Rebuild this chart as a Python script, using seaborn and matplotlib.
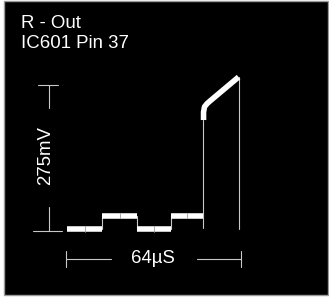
import matplotlib
matplotlib.use("Agg")
import matplotlib.pyplot as plt
import seaborn as sns
import pandas as pd
from matplotlib.patches import Rectangle

# ---- data (time in µs, level in mV) ----
title_lines = ["R - Out", "IC601 Pin 37"]
step_edges_us = [0.4, 13.2, 26.0, 38.4, 50.1]      # edges of the four flat parts
step_levels_mv = [4, 29, 4, 29]                      # level of each flat part
ramp_t_us = [50.3, 50.3, 50.65, 51.6, 52.7, 63.1]
ramp_v_mv = [209, 224, 234, 240, 245, 290]
scale_v_label = "275mV"
scale_v_mv = 275
scale_t_label = "64µS"
scale_t_us = 64

sns.set_theme(style="white")
plt.rcParams["font.family"] = ["Liberation Sans", "DejaVu Sans"]

W, H = 329, 297
FS = 13.4
fig = plt.figure(figsize=(W / 100, H / 100), dpi=100, facecolor="white")
fig.add_artist(Rectangle((4 / W, 2 / H), 324 / W, 294 / H, transform=fig.transFigure,
                         facecolor="black", edgecolor="#9a9a9a", linewidth=1, zorder=-1))
ax = fig.add_axes([0, 0, 1, 1])
ax.patch.set_visible(False)
ax.set_xlim(-24.14, 96.18)
ax.set_ylim(-124.3, 435.1)
ax.axis("off")

thin = dict(color="#c8c8c8", linewidth=0.8, sort=False, estimator=None, legend=False)
thick = dict(color="white", linewidth=4.0, sort=False, estimator=None, legend=False,
             solid_capstyle="butt", solid_joinstyle="round")

def seg(xs, ys, **kw):
    sns.lineplot(data=pd.DataFrame({"t": xs, "v": ys}), x="t", y="v", ax=ax, **kw)

# thin transitions
for i in range(1, 4):
    seg([step_edges_us[i]] * 2, [step_levels_mv[i - 1], step_levels_mv[i]], **thin)
seg([step_edges_us[4]] * 2, [step_levels_mv[0] + 1.5, ramp_v_mv[0]], **thin)
seg([ramp_t_us[-1] + 0.2] * 2, [ramp_v_mv[-1], step_levels_mv[0]], **thin)

# thick flat parts with mid dividers
for i, lvl in enumerate(step_levels_mv):
    a, b = step_edges_us[i], step_edges_us[i + 1]
    seg([a, b], [lvl, lvl], **thick)
    m = (a + b) / 2
    seg([m, m], [lvl - 5, lvl + 5], color="#9a9a9a", linewidth=0.6, sort=False,
        estimator=None, legend=False)

# thick ramp
seg(ramp_t_us, ramp_v_mv, **thick)

# vertical scale marker
mk = dict(color="#c8c8c8", linewidth=0.8, sort=False, estimator=None, legend=False)
xv = -6.4
seg([-10.1, -2.8], [scale_v_mv, scale_v_mv], **mk)
seg([xv, xv], [scale_v_mv, 231.7], **mk)
seg([xv, xv], [45.2, 0], **mk)
seg([-12.07, -1.46], [0, 0], **mk)
ax.text(-7.4, 142, scale_v_label, rotation=90, ha="center", va="center",
        color="white", fontsize=FS)

# horizontal scale marker
yh = -52.7
seg([0, 16.5], [yh, yh], **mk)
seg([47.9, scale_t_us], [yh, yh], **mk)
seg([0, 0], [-37.7, -67.8], **mk)
seg([scale_t_us, scale_t_us], [-37.7, -67.8], **mk)
ax.text(31.8, yh, scale_t_label, ha="center", va="center", color="white", fontsize=FS)

# title
fig.text(21 / W, 1 - 27.7 / H, title_lines[0], ha="left", va="baseline",
         color="white", fontsize=FS)
fig.text(21 / W, 1 - 47.7 / H, title_lines[1], ha="left", va="baseline",
         color="white", fontsize=FS)

fig.savefig("out.png", dpi=100, facecolor="white")
